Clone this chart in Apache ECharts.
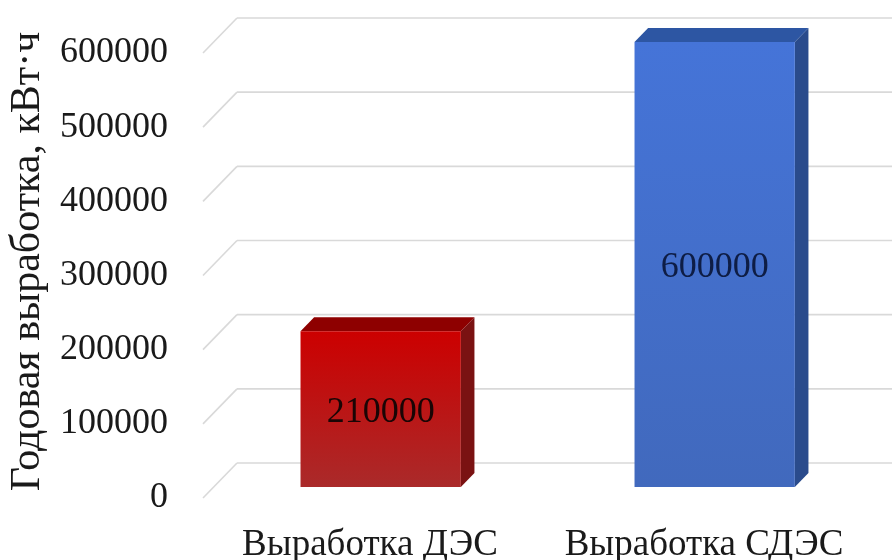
<!DOCTYPE html>
<html>
<head>
<meta charset="utf-8">
<script src="https://cdn.jsdelivr.net/npm/echarts@6/dist/echarts.min.js"></script>
<style>html,body{margin:0;padding:0;background:#fff;}#c{width:892px;height:560px;}</style>
</head>
<body>
<div id="c"></div>
<script>
const categories = ['Выработка ДЭС', 'Выработка СДЭС'];
const values = [210000, 600000];
const valueLabels = ['210000', '600000'];
const yTicks = [0, 100000, 200000, 300000, 400000, 500000, 600000];
const yTitle = 'Годовая выработка, кВт·ч';

const FONT = '"Liberation Serif", "Times New Roman", serif';
const DEPTH = 35, K = 34 / 35;      // perspective depth offset
const FRONT = 11, BACK = 25;        // bar depth range within the box
const BAR_RATIO = 0.48;

const faces = [
  { front: new echarts.graphic.LinearGradient(0, 0, 0, 1, [{offset: 0, color: '#cc0000'}, {offset: 1, color: '#aa2a2a'}]),
    top: '#8e0000', side: '#7a1212', label: '#1a0505' },
  { front: new echarts.graphic.LinearGradient(0, 0, 0, 1, [{offset: 0, color: '#4574d8'}, {offset: 1, color: '#4169bd'}]),
    top: '#2d56a3', side: '#2a4b8c', label: '#0e1d45' }
];

function renderGrid(params, api) {
  const cs = params.coordSys;
  const v = api.value(1);
  const p = api.coord([0, v]);
  const y = p[1];
  const x0 = cs.x;
  const bx = x0 + DEPTH * K, by = y - DEPTH;
  const style = { stroke: '#d9d9d9', lineWidth: 1.6 };
  return { type: 'group', children: [
    { type: 'line', shape: { x1: x0, y1: y, x2: bx, y2: by }, style },
    { type: 'line', shape: { x1: bx, y1: by, x2: cs.x + cs.width + DEPTH * K, y2: by }, style }
  ]};
}

function renderBar(params, api) {
  const i = api.value(0), v = api.value(1);
  const base = api.coord([i, 0]), top = api.coord([i, v]);
  const bw = api.size([1, 0])[0] * BAR_RATIO;
  const xl = base[0] - bw / 2 + FRONT * K, xr = base[0] + bw / 2 + FRONT * K;
  const yb = base[1] - FRONT, yt = top[1] - FRONT;
  const dx = (BACK - FRONT) * K, dy = -(BACK - FRONT);
  const f = faces[params.dataIndex];
  return { type: 'group', children: [
    { type: 'polygon', shape: { points: [[xr, yt], [xr + dx, yt + dy], [xr + dx, yb + dy], [xr, yb]] }, style: { fill: f.side } },
    { type: 'polygon', shape: { points: [[xl, yt], [xl + dx, yt + dy], [xr + dx, yt + dy], [xr, yt]] }, style: { fill: f.top } },
    { type: 'rect', shape: { x: xl, y: yt, width: xr - xl, height: yb - yt }, style: { fill: f.front } },
    { type: 'text', x: (xl + xr) / 2, y: (yt + yb) / 2 + 3,
      style: { text: valueLabels[params.dataIndex], fill: f.label, font: '36px ' + FONT, align: 'center', verticalAlign: 'middle' } }
  ]};
}

const chart = echarts.init(document.getElementById('c'), null, { renderer: 'canvas' });
chart.setOption({
  animation: false,
  backgroundColor: '#ffffff',
  grid: { left: 203, right: 21, top: 53, bottom: 62, containLabel: false, outerBoundsMode: 'none' },
  xAxis: {
    type: 'category', data: categories,
    axisLine: { show: false }, axisTick: { show: false }, splitLine: { show: false },
    axisLabel: { fontFamily: FONT, fontSize: 37, color: '#1a1a1a', margin: 29, interval: 0 }
  },
  yAxis: {
    type: 'value', min: 0, max: 600000, interval: 100000,
    axisLine: { show: false }, axisTick: { show: false }, splitLine: { show: false },
    axisLabel: { fontFamily: FONT, fontSize: 36, color: '#1a1a1a', margin: 35, formatter: v => String(v) },
    name: yTitle, nameLocation: 'middle', nameRotate: 90, nameGap: 152,
    nameTextStyle: { fontFamily: FONT, fontSize: 42, color: '#1a1a1a', padding: [0, 0, 0, 28] }
  },
  series: [
    { type: 'custom', renderItem: renderGrid, data: yTicks.map(t => [0, t]), z: 1, silent: true },
    { type: 'custom', renderItem: renderBar, data: values.map((v, i) => [i, v]), z: 2, silent: true }
  ]
});
</script>
</body>
</html>
